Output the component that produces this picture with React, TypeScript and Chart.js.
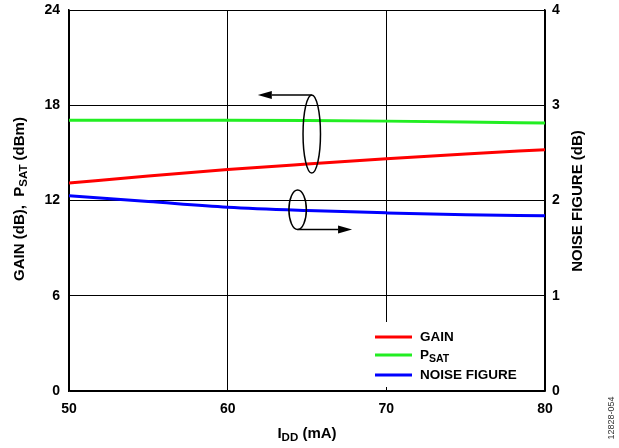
import React, { useEffect, useRef } from "react";
import { Chart, registerables } from "chart.js";

Chart.register(...registerables);

const currents = [50, 55, 60, 65, 70, 75, 80];
const gainDb = [13.1, 13.54, 13.95, 14.3, 14.63, 14.93, 15.2];
const psatDbm = [17.05, 17.06, 17.06, 17.04, 17.0, 16.95, 16.88];
const noiseFigureDb = [2.05, 1.99, 1.93, 1.895, 1.87, 1.85, 1.84];

const leftTicks = [0, 6, 12, 18, 24];
const rightTicks = [0, 1, 2, 3, 4];
const xTicks = [50, 60, 70, 80];

const RED = "#ff0000";
const GREEN = "#22ee22";
const BLUE = "#0000ff";
const FONT = "'Liberation Sans', Arial, sans-serif";

type Part = { t: string; sub?: boolean };

function drawParts(ctx: CanvasRenderingContext2D, parts: Part[], x: number, y: number, rot: number, size: number, subSize: number, align: "center" | "left") {
  ctx.save();
  ctx.translate(x, y);
  ctx.rotate(rot);
  ctx.fillStyle = "#000";
  ctx.textBaseline = "middle";
  ctx.textAlign = "left";
  let total = 0;
  for (const p of parts) {
    ctx.font = `bold ${p.sub ? subSize : size}px ${FONT}`;
    total += ctx.measureText(p.t).width;
  }
  let cur = align === "center" ? -total / 2 : 0;
  for (const p of parts) {
    ctx.font = `bold ${p.sub ? subSize : size}px ${FONT}`;
    ctx.fillText(p.t, cur, p.sub ? 4 : 0);
    cur += ctx.measureText(p.t).width;
  }
  ctx.restore();
}

function arrow(ctx: CanvasRenderingContext2D, x1: number, y: number, x2: number) {
  const dir = x2 > x1 ? 1 : -1;
  const head = 14;
  ctx.beginPath();
  ctx.moveTo(x1, y);
  ctx.lineTo(x2 - dir * head, y);
  ctx.stroke();
  ctx.beginPath();
  ctx.moveTo(x2, y);
  ctx.lineTo(x2 - dir * head, y - 4);
  ctx.lineTo(x2 - dir * head, y + 4);
  ctx.closePath();
  ctx.fill();
}

const overlayPlugin = {
  id: "overlay",
  afterDraw(chart: any) {
    const ctx: CanvasRenderingContext2D = chart.ctx;
    const xs = chart.scales.x;
    const yl = chart.scales.y;
    const yr = chart.scales.y2;
    const area = chart.chartArea;

    // annotations
    ctx.save();
    ctx.strokeStyle = "#000";
    ctx.fillStyle = "#000";
    ctx.lineWidth = 1.5;
    const e1x = xs.getPixelForValue(65.3);
    const e1y = yl.getPixelForValue(16.19);
    const e1rx = xs.getPixelForValue(65.85) - e1x;
    const e1ry = e1y - yl.getPixelForValue(16.19 + 2.46);
    ctx.beginPath();
    ctx.ellipse(e1x, e1y, e1rx, e1ry, 0, 0, Math.PI * 2);
    ctx.stroke();
    arrow(ctx, e1x, e1y - e1ry, xs.getPixelForValue(61.9));
    const e2x = xs.getPixelForValue(64.41);
    const e2y = yr.getPixelForValue(1.903);
    const e2rx = xs.getPixelForValue(64.96) - e2x;
    const e2ry = e2y - yr.getPixelForValue(1.903 + 0.207);
    ctx.beginPath();
    ctx.ellipse(e2x, e2y, e2rx, e2ry, 0, 0, Math.PI * 2);
    ctx.stroke();
    arrow(ctx, e2x, e2y + e2ry, xs.getPixelForValue(67.84));
    ctx.restore();

    // legend
    ctx.save();
    ctx.fillStyle = "#fff";
    ctx.fillRect(362, 322, area.right - 363, 65);
    const rows: { c: string; parts: Part[]; y: number }[] = [
      { c: RED, parts: [{ t: "GAIN" }], y: 337 },
      { c: GREEN, parts: [{ t: "P" }, { t: "SAT", sub: true }], y: 355 },
      { c: BLUE, parts: [{ t: "NOISE FIGURE" }], y: 375 },
    ];
    for (const r of rows) {
      ctx.strokeStyle = r.c;
      ctx.lineWidth = 3;
      ctx.beginPath();
      ctx.moveTo(375, r.y);
      ctx.lineTo(412, r.y);
      ctx.stroke();
      drawParts(ctx, r.parts, 420, r.y, 0, 13.5, 10.5, "left");
    }
    ctx.restore();

    // axis titles
    drawParts(ctx, [{ t: "GAIN (dB),  P" }, { t: "SAT", sub: true }, { t: " (dBm)" }], 20, 199, -Math.PI / 2, 15, 11.5, "center");
    drawParts(ctx, [{ t: "NOISE FIGURE (dB)" }], 578, 201, -Math.PI / 2, 15, 11.5, "center");
    drawParts(ctx, [{ t: "I" }, { t: "DD", sub: true }, { t: " (mA)" }], 307, 434, 0, 15, 11.5, "center");

    // figure id
    ctx.save();
    ctx.translate(612, 418);
    ctx.rotate(-Math.PI / 2);
    ctx.font = `9px ${FONT}`;
    ctx.fillStyle = "#333";
    ctx.textAlign = "center";
    ctx.textBaseline = "middle";
    ctx.fillText("12828-054", 0, 0);
    ctx.restore();
  },
};

export default function App() {
  const ref = useRef<HTMLCanvasElement>(null);
  useEffect(() => {
    document.body.style.margin = "0";
    const mk = (arr: number[]) => currents.map((x, i) => ({ x, y: arr[i] }));
    const tickFont = { family: FONT, size: 14, weight: "bold" as const };
    const noPad = (s: any) => {
      s.paddingTop = 0;
      s.paddingBottom = 0;
      s.paddingLeft = 0;
      s.paddingRight = 0;
    };
    const chart = new Chart(ref.current!, {
      type: "line",
      data: {
        datasets: [
          { label: "GAIN", data: mk(gainDb), borderColor: RED, yAxisID: "y" },
          { label: "PSAT", data: mk(psatDbm), borderColor: GREEN, yAxisID: "y" },
          { label: "NOISE FIGURE", data: mk(noiseFigureDb), borderColor: BLUE, yAxisID: "y2" },
        ],
      },
      options: {
        animation: false,
        responsive: false,
        maintainAspectRatio: false,
        layout: { padding: { top: 10, left: 0, right: 0, bottom: 0 } },
        elements: {
          point: { radius: 0 },
          line: { borderWidth: 3, tension: 0.4, cubicInterpolationMode: "monotone" },
        },
        plugins: { legend: { display: false }, tooltip: { enabled: false } },
        scales: {
          x: {
            type: "linear",
            min: 50,
            max: 80,
            afterBuildTicks: (s: any) => { s.ticks = xTicks.map((v) => ({ value: v })); },
            afterFit: (s: any) => { s.height = 57; noPad(s); },
            ticks: { font: tickFont, color: "#000", padding: 10, maxRotation: 0 },
            grid: { color: "#000", lineWidth: 1, drawTicks: false },
            border: { color: "#000", width: 1.5 },
          },
          y: {
            type: "linear",
            position: "left",
            min: 0,
            max: 24,
            afterBuildTicks: (s: any) => { s.ticks = leftTicks.map((v) => ({ value: v })); },
            afterFit: (s: any) => { s.width = 69; noPad(s); },
            ticks: { font: tickFont, color: "#000", padding: 9 },
            grid: { color: "#000", lineWidth: 1, drawTicks: false },
            border: { color: "#000", width: 1.5 },
          },
          y2: {
            type: "linear",
            position: "right",
            min: 0,
            max: 4,
            afterBuildTicks: (s: any) => { s.ticks = rightTicks.map((v) => ({ value: v })); },
            afterFit: (s: any) => { s.width = 74; noPad(s); },
            ticks: { font: tickFont, color: "#000", padding: 7 },
            grid: { display: false, drawTicks: false },
            border: { color: "#000", width: 1.5 },
          },
        },
      },
      plugins: [overlayPlugin],
    } as any);
    return () => chart.destroy();
  }, []);
  return (
    <div style={{ position: "fixed", left: 0, top: 0, width: 619, height: 448, background: "#fff" }}>
      <canvas ref={ref} width={619} height={448} style={{ width: 619, height: 448 }} />
    </div>
  );
}
